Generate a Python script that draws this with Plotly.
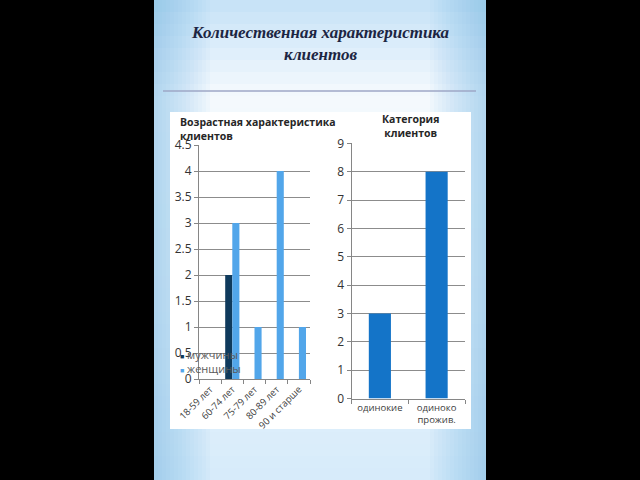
import plotly.graph_objects as go

# ---- data ----
age_groups = ["18-59 лет", "60-74 лет", "75-79 лет", "80-89 лет", "90 и старше"]
men = [0, 2, 0, 0, 0]
women = [0, 3, 1, 4, 1]
cat_labels = ["одинокие", "одиноко<br>прожив."]
cat_values = [3, 8]

W, H = 640, 480
def fx(px): return px / W
def fy(py): return 1 - py / H

fig = go.Figure()
fig.add_trace(go.Bar(x=age_groups, y=men, name="мужчины", marker_color="#0f3a5c",
                     xaxis="x", yaxis="y", showlegend=False))
fig.add_trace(go.Bar(x=age_groups, y=women, name="женщины", marker_color="#52a6ea",
                     xaxis="x", yaxis="y", showlegend=False))
fig.add_trace(go.Bar(x=cat_labels, y=cat_values, name="Категория", marker_color="#1474c8",
                     width=0.39, xaxis="x2", yaxis="y2", showlegend=False))

shapes = []
# slide background gradient (bands)
SL, SR = 154, 486
stops = [(0, (196, 225, 247)), (60, (226, 240, 251)), (95, (244, 249, 253)),
         (300, (236, 245, 252)), (480, (214, 235, 250))]
def col_at(y):
    for (y0, c0), (y1, c1) in zip(stops[:-1], stops[1:]):
        if y0 <= y <= y1:
            t = (y - y0) / (y1 - y0)
            return tuple(int(round(a + (b - a) * t)) for a, b in zip(c0, c1))
    return stops[-1][1]
shapes.append(dict(type="rect", xref="paper", yref="paper", x0=fx(SL), x1=fx(SR),
                   y0=0, y1=1, fillcolor="rgb(230,243,252)", line=dict(width=0), layer="below"))
n = 40
for i in range(n):
    y0 = i * H / n
    y1 = (i + 1) * H / n + 2
    c = col_at((y0 + y1) / 2)
    shapes.append(dict(type="rect", xref="paper", yref="paper", x0=fx(SL), x1=fx(SR),
                       y0=max(0, fy(y1)), y1=fy(y0), fillcolor="rgb(%d,%d,%d)" % c,
                       line=dict(width=0), layer="below"))
for k in range(14):
    w = (14 - k) * 4
    for xa, xb in ((SL, SL + w), (SR - w, SR)):
        shapes.append(dict(type="rect", xref="paper", yref="paper", x0=fx(xa), x1=fx(xb),
                           y0=0, y1=1, fillcolor="rgba(110,180,238,0.045)",
                           line=dict(width=0), layer="below"))
# separator line
shapes.append(dict(type="line", xref="paper", yref="paper", x0=fx(163), x1=fx(476),
                   y0=fy(91), y1=fy(91), line=dict(color="#9ea7c6", width=1.5), layer="below"))
# white chart area
shapes.append(dict(type="rect", xref="paper", yref="paper", x0=fx(170), x1=fx(471),
                   y0=fy(429), y1=fy(112), fillcolor="white", line=dict(width=0), layer="below"))

tickfont = dict(family="Open Sans", size=12, color="#333333")
axis_common = dict(showline=True, linecolor="#868686", linewidth=1, ticks="outside",
                   ticklen=4, tickcolor="#868686", fixedrange=True, automargin=False)

annotations = [
    dict(text="<b><i>Количественная характеристика<br>клиентов</i></b>", x=0.5, y=fy(21),
         xref="paper", yref="paper", xanchor="center", yanchor="top", showarrow=False,
         font=dict(family="Liberation Serif", size=17, color="#1c2542"), align="center"),
    dict(text="<b>Возрастная характеристика<br>клиентов</b>", x=fx(178), y=fy(113),
         xref="paper", yref="paper", xanchor="left", yanchor="top", showarrow=False,
         font=dict(family="Open Sans", size=10.5, color="#262626"), align="left"),
    dict(text="<b>Категория<br>клиентов</b>", x=fx(410), y=fy(110),
         xref="paper", yref="paper", xanchor="center", yanchor="top", showarrow=False,
         font=dict(family="Open Sans", size=10.5, color="#262626"), align="center"),
    dict(text="<span style='color:#0f3a5c;font-size:7px'>■</span> мужчины", x=fx(178), y=fy(354),
         xref="paper", yref="paper", xanchor="left", yanchor="middle", showarrow=False,
         font=dict(family="Open Sans", size=11, color="#595959")),
    dict(text="<span style='color:#52a6ea;font-size:7px'>■</span> женщины", x=fx(178), y=fy(368),
         xref="paper", yref="paper", xanchor="left", yanchor="middle", showarrow=False,
         font=dict(family="Open Sans", size=11, color="#595959")),
]

fig.update_layout(
    template="none",
    width=W, height=H, margin=dict(l=0, r=0, t=0, b=0, pad=0), autosize=False,
    paper_bgcolor="black", plot_bgcolor="rgba(0,0,0,0)",
    barmode="group", bargap=0.36, bargroupgap=0,
    shapes=shapes, annotations=annotations,
    xaxis=dict(domain=[fx(199), fx(310)], tickangle=-45, tickson="boundaries", showgrid=False,
               tickfont=dict(family="Open Sans", size=9.5, color="#404040"), **axis_common),
    yaxis=dict(domain=[fy(379), fy(145)], range=[0, 4.5], dtick=0.5, showgrid=True,
               gridcolor="#8c8c8c", gridwidth=1, tickfont=tickfont, zeroline=False,
               **axis_common),
    xaxis2=dict(domain=[fx(351.5), fx(465)], tickson="boundaries", anchor="y2", showgrid=False,
                tickfont=dict(family="Open Sans", size=9.5, color="#404040"), **axis_common),
    yaxis2=dict(domain=[fy(398.5), fy(143.3)], range=[0, 9], dtick=1, showgrid=True,
                gridcolor="#8c8c8c", gridwidth=1, tickfont=tickfont, zeroline=False,
                anchor="x2", **axis_common),
)

fig.write_html("out.html")
